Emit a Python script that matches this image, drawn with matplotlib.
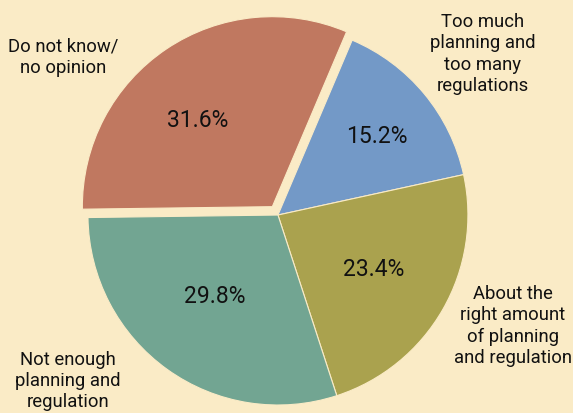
import matplotlib.pyplot as plt

# data
categories = ["Too much\nplanning and\ntoo many\nregulations",
              "About the\nright amount\nof planning\nand regulation",
              "Not enough\nplanning and\nregulation",
              "Do not know/\nno opinion"]
shares = [15.2, 23.4, 29.8, 31.6]

colors = ["#7399C7", "#AAA24E", "#72A592", "#C07860"]
bg = "#FAEBC6"
explode = [0, 0, 0, 0.053]

# where the outside labels and the percentages sit (data units, radius = 1)
label_pos = [(1.079, 0.853), (1.237, -0.579), (-1.105, -0.868), (-1.132, 0.837)]
pct_pos = [(0.521, 0.416), (0.505, -0.284), (-0.332, -0.421), (-0.421, 0.505)]

plt.rcParams['font.family'] = ['Roboto', 'DejaVu Sans']

fig = plt.figure(figsize=(5.73, 4.14), dpi=100, facecolor=bg)
ax = fig.add_axes([0, 0, 1, 1])
ax.set_facecolor(bg)

wedges, texts, autotexts = ax.pie(
    shares, colors=colors, explode=explode, startangle=67,
    counterclock=False, autopct="%.1f%%",
    wedgeprops=dict(edgecolor=bg, linewidth=0.8),
    textprops=dict(fontsize=16.5, color="#111111"))

for t, p in zip(autotexts, pct_pos):
    t.set_position(p)

for (x, y), name in zip(label_pos, categories):
    ax.text(x, y, name, ha="center", va="center", fontsize=13.3,
            color="#111111", linespacing=1.22)

ax.set_aspect("equal")
ax.set_xlim(-1.463, 1.553)
ax.set_ylim(-1.042, 1.137)
ax.axis("off")

fig.savefig("out.png", dpi=100, facecolor=bg)
